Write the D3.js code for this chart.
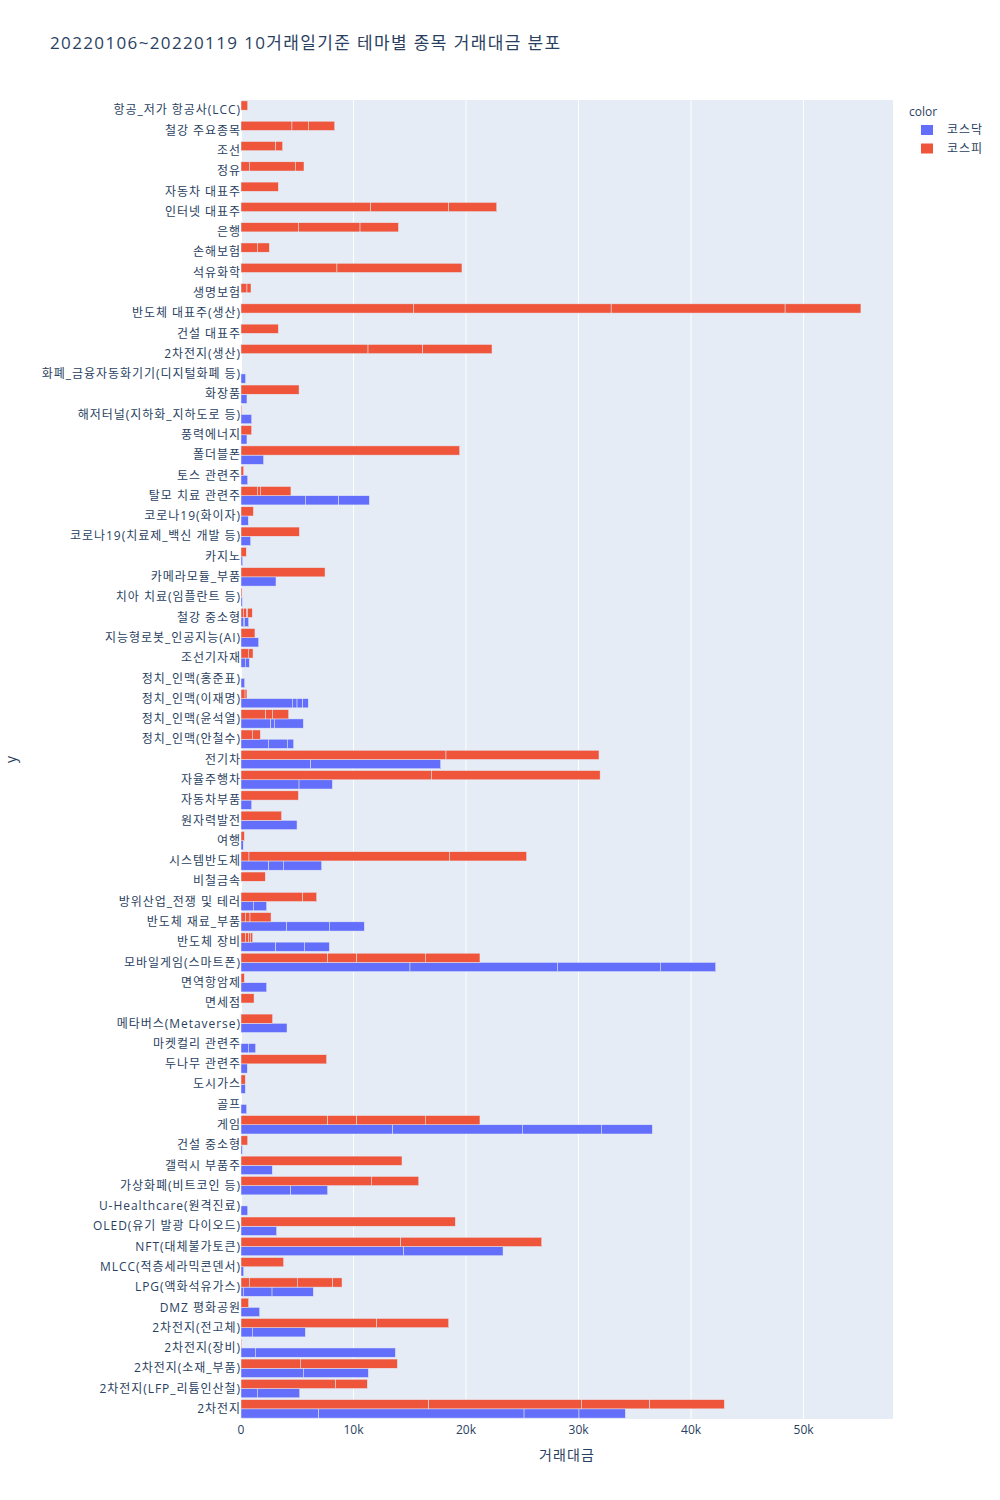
<!DOCTYPE html>
<html>
<head>
<meta charset="utf-8">
<script src="https://cdn.jsdelivr.net/npm/d3@7"></script>
<style>
  body { margin: 0; background: #fff; }
  svg { font-family: "Open Sans", "Noto Sans CJK KR", verdana, arial, sans-serif; }
  .wide { letter-spacing: 0.08em; }
</style>
</head>
<body>
<div id="chart"></div>
<script>
// categories, listed top to bottom as they appear on the y axis
const themes = [
  '항공_저가 항공사(LCC)', '철강 주요종목', '조선', '정유', '자동차 대표주', '인터넷 대표주', '은행', '손해보험',
  '석유화학', '생명보험', '반도체 대표주(생산)', '건설 대표주', '2차전지(생산)', '화폐_금융자동화기기(디지털화폐 등)',
  '화장품', '해저터널(지하화_지하도로 등)', '풍력에너지', '폴더블폰', '토스 관련주', '탈모 치료 관련주',
  '코로나19(화이자)', '코로나19(치료제_백신 개발 등)', '카지노', '카메라모듈_부품', '치아 치료(임플란트 등)',
  '철강 중소형', '지능형로봇_인공지능(AI)', '조선기자재', '정치_인맥(홍준표)', '정치_인맥(이재명)',
  '정치_인맥(윤석열)', '정치_인맥(안철수)', '전기차', '자율주행차', '자동차부품', '원자력발전', '여행',
  '시스템반도체', '비철금속', '방위산업_전쟁 및 테러', '반도체 재료_부품', '반도체 장비', '모바일게임(스마트폰)',
  '면역항암제', '면세점', '메타버스(Metaverse)', '마켓컬리 관련주', '두나무 관련주', '도시가스', '골프', '게임',
  '건설 중소형', '갤럭시 부품주', '가상화폐(비트코인 등)', 'U-Healthcare(원격진료)', 'OLED(유기 발광 다이오드)',
  'NFT(대체불가토큰)', 'MLCC(적층세라믹콘덴서)', 'LPG(액화석유가스)', 'DMZ 평화공원', '2차전지(전고체)',
  '2차전지(장비)', '2차전지(소재_부품)', '2차전지(LFP_리튬인산철)', '2차전지'
]

// per-stock 거래대금 segments of each theme (same order as themes)
const kospiSegments = [
  [600], [4530, 1450, 2350], [3080, 620], [740, 4090, 770], [3320], [11530, 6930, 4270], [5100, 5480, 3420],
  [1450, 1070], [8530, 11110], [530, 360], [15320, 17580, 15460, 6740], [3320], [11290, 4860, 6160], [],
  [5160], [60], [950], [19440], [240], [1450, 270, 2720],
  [1100], [5190], [470], [7470], [90],
  [200, 300, 100, 400], [1240], [650, 420], [], [360, 170],
  [2190, 600, 1450], [1000, 720], [18220, 13600], [16920, 15000], [5100], [3610], [300],
  [710, 17810, 6870], [2160], [5480, 1250], [380, 420, 1870], [410, 270, 150, 210], [7700, 2580, 6100, 4860],
  [300], [1160], [2810], [], [7610], [380], [], [7700, 2580, 6100, 4860],
  [600], [14310], [11580, 4220], [], [19050],
  [14190, 12540], [3790], [740, 4260, 3150, 830], [680], [12060, 6400],
  [50], [5270, 8630], [8410, 2820], [16680, 13570, 6080, 6630]
]

const kosdaqSegments = [
  [], [], [], [], [], [], [], [],
  [], [], [], [], [], [410],
  [530], [950], [530], [2010], [600], [5720, 2960, 2730],
  [650], [860], [150], [3110], [120],
  [200, 100, 380], [1570], [380, 360], [330], [4560, 420, 500, 500],
  [2640, 320, 2580], [2430, 1690, 560], [6190, 11560], [5160, 2960], [950], [4980], [200],
  [2460, 1300, 3410], [], [1100, 1180], [4060, 3790, 3110], [3080, 2550, 2220], [15020, 13100, 9150, 4920],
  [2280], [], [4090], [650, 650], [560], [380], [500], [13480, 11520, 7030, 4530],
  [120], [2780], [4420, 3280], [600], [3170],
  [14460, 8830], [240], [200, 2560, 3670], [1660], [1000, 4720],
  [1270, 12450], [5540, 5780], [1450, 3770], [6900, 18260, 4880, 4120]
]

const seriesNames = ['코스닥', '코스피']
const seriesColors = ['#636efa', '#EF553B']
const xTicks = [0, 10000, 20000, 30000, 40000, 50000]

const width = 1000, height = 1500
const margin = {left: 241, right: 107, top: 100, bottom: 81}
const plotW = width - margin.left - margin.right
const plotH = height - margin.top - margin.bottom
const textColor = '#2a3f5f'

const svg = d3.select('#chart').append('svg')
  .attr('width', width)
  .attr('height', height)

const x = d3.scaleLinear().domain([0, 57950]).range([0, plotW])
const y = d3.scaleBand().domain(themes).range([0, plotH]).paddingInner(0).paddingOuter(0)
// plotly grouped bars: bargap 0.2, two traces per band
const inner = d3.scaleBand().domain(['코스피', '코스닥']).range([0, y.bandwidth()]).paddingOuter(0.1).paddingInner(0)

const g = svg.append('g').attr('transform', `translate(${margin.left},${margin.top})`)

g.append('rect')
  .attr('width', plotW)
  .attr('height', plotH)
  .attr('fill', '#E5ECF6')

g.selectAll('.grid')
  .data(xTicks.slice(1))
  .join('line')
  .attr('class', 'grid')
  .attr('x1', (d) => x(d)).attr('x2', (d) => x(d))
  .attr('y1', 0).attr('y2', plotH)
  .attr('stroke', '#fff')
  .attr('stroke-width', 1)

g.append('line')
  .attr('x1', x(0)).attr('x2', x(0))
  .attr('y1', 0).attr('y2', plotH)
  .attr('stroke', '#fff')
  .attr('stroke-width', 2)

const stackRows = (segments, series) => {
  const rows = []
  segments.forEach((segs, i) => {
    let acc = 0
    segs.forEach((v) => {
      rows.push({theme: themes[i], series: series, x0: acc, x1: acc + v})
      acc += v
    })
  })
  return rows
}

const rows = stackRows(kosdaqSegments, '코스닥').concat(stackRows(kospiSegments, '코스피'))

g.selectAll('.bar')
  .data(rows)
  .join('rect')
  .attr('class', 'bar')
  .attr('x', (d) => x(d.x0))
  .attr('width', (d) => Math.max(0, x(d.x1) - x(d.x0)))
  .attr('y', (d) => y(d.theme) + inner(d.series))
  .attr('height', inner.bandwidth())
  .attr('fill', (d) => seriesColors[seriesNames.indexOf(d.series)])
  .attr('stroke', '#E5ECF6')
  .attr('stroke-width', 0.5)

// y axis labels (trailing letter-spacing pushes the end left, so nudge right)
g.selectAll('.ylab')
  .data(themes)
  .join('text')
  .attr('class', 'ylab wide')
  .attr('x', 0)
  .attr('y', (d) => y(d) + y.bandwidth() / 2)
  .attr('dy', '0.35em')
  .attr('text-anchor', 'end')
  .attr('font-size', 12)
  .attr('fill', textColor)
  .text((d) => d)

// x axis labels
g.selectAll('.xlab')
  .data(xTicks)
  .join('text')
  .attr('class', 'xlab')
  .attr('x', (d) => x(d))
  .attr('y', plotH + 11)
  .attr('dy', '0.35em')
  .attr('text-anchor', 'middle')
  .attr('font-size', 12)
  .attr('fill', textColor)
  .text((d) => d === 0 ? '0' : d3.format('d')(d / 1000) + 'k')

svg.append('text')
  .attr('class', 'wide')
  .attr('x', margin.left + plotW / 2)
  .attr('y', 1455)
  .attr('dy', '0.35em')
  .attr('text-anchor', 'middle')
  .attr('font-size', 14)
  .attr('fill', textColor)
  .text('거래대금')

svg.append('text')
  .attr('transform', `translate(11,${margin.top + plotH / 2}) rotate(-90)`)
  .attr('dy', '0.35em')
  .attr('text-anchor', 'middle')
  .attr('font-size', 14)
  .attr('fill', textColor)
  .text('y')

svg.append('text')
  .attr('class', 'wide')
  .attr('x', 50)
  .attr('y', 43)
  .attr('dy', '0.35em')
  .attr('font-size', 17)
  .attr('fill', textColor)
  .text('20220106~20220119 10거래일기준 테마별 종목 거래대금 분포')

// legend
const legend = svg.append('g').attr('transform', 'translate(909,0)')
legend.append('text')
  .attr('x', 0).attr('y', 112)
  .attr('dy', '0.35em')
  .attr('font-size', 12)
  .attr('fill', textColor)
  .text('color')

const items = legend.selectAll('.item')
  .data(seriesNames)
  .join('g')
  .attr('class', 'item')
  .attr('transform', (d, i) => `translate(0,${130 + i * 18.5})`)
items.append('rect')
  .attr('x', 12).attr('y', -5)
  .attr('width', 12).attr('height', 10)
  .attr('fill', (d, i) => seriesColors[i])
items.append('text')
  .attr('class', 'wide')
  .attr('x', 38).attr('y', 0)
  .attr('dy', '0.35em')
  .attr('font-size', 12)
  .attr('fill', textColor)
  .text((d) => d)
</script>
</body>
</html>
